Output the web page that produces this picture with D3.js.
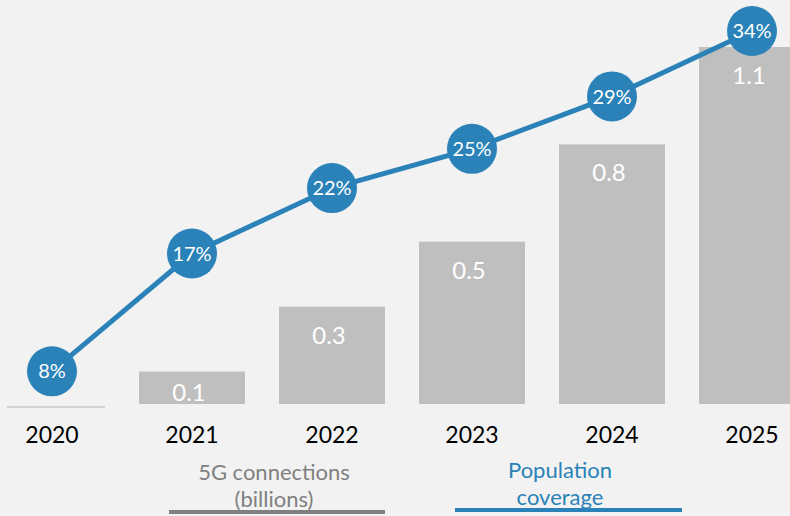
<!DOCTYPE html>
<html><head><meta charset="utf-8">
<script src="https://cdn.jsdelivr.net/npm/d3@7"></script>
<style>
html,body{margin:0;padding:0;background:#f2f2f2;}
svg{display:block;font-family:Lato,"Open Sans",sans-serif;}
</style></head>
<body>
<svg id="chart" width="790" height="516"></svg>
<script>
const years = ["2020","2021","2022","2023","2024","2025"];
const connections = [0, 0.1, 0.3, 0.5, 0.8, 1.1];
const connectionLabels = ["", "0.1", "0.3", "0.5", "0.8", "1.1"];
const coverage = [8, 17, 22, 25, 29, 34];
const coverageLabels = ["8%", "17%", "22%", "25%", "29%", "34%"];
const legendBar = ["5G connections", "(billions)"];
const legendLine = ["Population", "coverage"];

const svg = d3.select("#chart");
const blue = "#2a82b8", barGray = "#bfbfbf";

const x = d3.scaleBand().domain(years).range([-18, 822]).paddingInner(0.243).paddingOuter(0.1215);
const yBar = d3.scaleLinear().domain([0, 1.1]).range([404, 47]);
const yLine = d3.scaleLinear().domain([0, 34]).range([476, 31]);

const data = years.map((yr, i) => ({yr, c: connections[i], cl: connectionLabels[i], p: coverage[i], pl: coverageLabels[i]}));

// bars
svg.append("g").selectAll("rect").data(data.filter(d => d.c > 0)).join("rect")
  .attr("x", d => x(d.yr)).attr("width", x.bandwidth())
  .attr("y", d => yBar(d.c)).attr("height", d => yBar(0) - yBar(d.c))
  .attr("fill", barGray);

// zero bar line for 2020
svg.append("g").selectAll("line").data(data.filter(d => d.c === 0)).join("line")
  .attr("x1", d => x(d.yr) + 8).attr("x2", d => x(d.yr) + x.bandwidth())
  .attr("y1", yBar(0) + 3).attr("y2", yBar(0) + 3)
  .attr("stroke", "#c9c9c9").attr("stroke-width", 1.5);

// bar labels
svg.append("g").selectAll("text").data(data.filter(d => d.c > 0)).join("text")
  .attr("x", d => x(d.yr) + x.bandwidth() / 2 - 3)
  .attr("y", d => Math.min(yBar(d.c) + 37, yBar(0) - 3))
  .attr("text-anchor", "middle").attr("fill", "#ffffff").attr("font-size", 24)
  .text(d => d.cl);

// year axis labels
const xAxis = d3.axisBottom(x).tickSize(0).tickPadding(0);
const ax = svg.append("g").attr("transform", "translate(0,427)").call(xAxis);
ax.select(".domain").remove();
ax.selectAll("text").attr("font-size", 23).attr("fill", "#000").attr("dy", "0.71em")
  .attr("font-family", "Lato, 'Open Sans', sans-serif");

// line
const cx = d => x(d.yr) + x.bandwidth() / 2;
svg.append("path").datum(data)
  .attr("d", d3.line().x(cx).y(d => yLine(d.p)))
  .attr("fill", "none").attr("stroke", blue).attr("stroke-width", 5);

const pts = svg.append("g").selectAll("g").data(data).join("g")
  .attr("transform", d => `translate(${cx(d)},${yLine(d.p)})`);
pts.append("circle").attr("r", 25).attr("fill", blue);
pts.append("text").attr("text-anchor", "middle").attr("dy", "0.36em")
  .attr("fill", "#fff").attr("font-size", 20).text(d => d.pl);

// legend
const lg = svg.append("g");
lg.selectAll("text.lb").data(legendBar).join("text").attr("class", "lb")
  .attr("x", 274).attr("y", (d, i) => 480 + i * 27)
  .attr("text-anchor", "middle").attr("fill", "#808080").attr("font-size", 22).text(d => d);
lg.append("line").attr("x1", 169).attr("x2", 385).attr("y1", 512).attr("y2", 512)
  .attr("stroke", "#7f7f7f").attr("stroke-width", 4);
lg.selectAll("text.ll").data(legendLine).join("text").attr("class", "ll")
  .attr("x", 560).attr("y", (d, i) => 478 + i * 27)
  .attr("text-anchor", "middle").attr("fill", blue).attr("font-size", 22).text(d => d);
lg.append("line").attr("x1", 455).attr("x2", 682).attr("y1", 510).attr("y2", 510)
  .attr("stroke", blue).attr("stroke-width", 4);
</script>
</body></html>
